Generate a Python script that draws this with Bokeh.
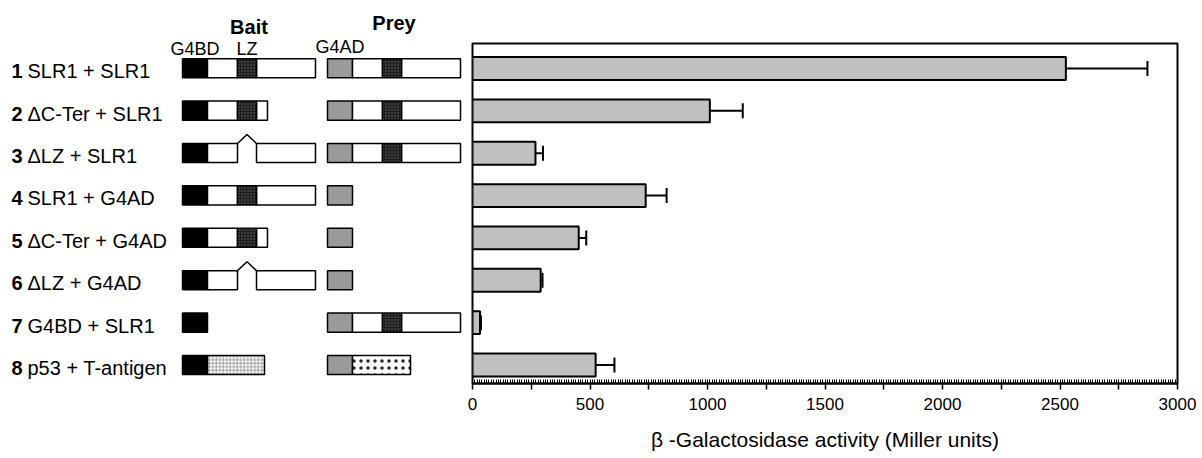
from bokeh.plotting import figure
from bokeh.models import Range1d, FixedTicker, Whisker, TeeHead, ColumnDataSource
from bokeh.layouts import row
from bokeh.embed import file_html
from bokeh.resources import INLINE
from bokeh.core.properties import value

FONT = "Liberation Sans"

# ---------------- data ----------------
row_numbers = ["1", "2", "3", "4", "5", "6", "7", "8"]
row_labels = ["SLR1 + SLR1", "ΔC-Ter + SLR1", "ΔLZ + SLR1", "SLR1 + G4AD",
              "ΔC-Ter + G4AD", "ΔLZ + G4AD", "G4BD + SLR1", "p53 + T-antigen"]
activity = [2525, 1010, 268, 737, 452, 290, 32, 524]
err_low = [2180, 878, 236, 648, 428, 280, 28, 444]
err_high = [2872, 1150, 300, 826, 484, 298, 36, 604]

tick_values = [0, 250, 500, 750, 1000, 1250, 1500, 1750, 2000, 2250, 2500, 2750, 3000]
tick_labels = ["0", "", "500", "", "1000", "", "1500", "", "2000", "", "2500", "", "3000"]
x_title = "β -Galactosidase activity (Miller units)"

# schematic domain sizes (arbitrary schematic units)
domain_len = {"G4BD": 25, "G4AD": 25, "N": 30, "LZ": 19, "gapLZ": 19,
              "C": 59, "Ct": 11, "p53": 57, "Tag": 58}
bait_parts = [
    ["G4BD", "N", "LZ", "C"],
    ["G4BD", "N", "LZ", "Ct"],
    ["G4BD", "N", "gapLZ", "C"],
    ["G4BD", "N", "LZ", "C"],
    ["G4BD", "N", "LZ", "Ct"],
    ["G4BD", "N", "gapLZ", "C"],
    ["G4BD"],
    ["G4BD", "p53"],
]
prey_parts = [
    ["G4AD", "N", "LZ", "C"],
    ["G4AD", "N", "LZ", "C"],
    ["G4AD", "N", "LZ", "C"],
    ["G4AD"],
    ["G4AD"],
    ["G4AD"],
    ["G4AD", "N", "LZ", "C"],
    ["G4AD", "Tag"],
]

# ---------------- layout constants ----------------
ROW0 = 67.7      # canvas y of first row centre
ROWSTEP = 42.4   # px per row
H = 458


def rows_of(cy):
    return (cy - ROW0) / ROWSTEP


BAIT_X0 = 0
PREY_X0 = 145
LEFT_W = 464
LEFT_X_ORIGIN = 182  # canvas x of bait start
BOX_HALF = 0.225
PEAK = 0.21

styles = {
    "G4BD": dict(fill_color="black"),
    "G4AD": dict(fill_color="#9a9a9a"),
    "N": dict(fill_color="white"),
    "C": dict(fill_color="white"),
    "Ct": dict(fill_color="white"),
    "LZ": dict(fill_color="#1e1e1e", hatch_pattern="dot", hatch_color="#6e6e6e",
               hatch_scale=3, hatch_weight=1),
    "p53": dict(fill_color="white", hatch_pattern="cross", hatch_color="#8a8a8a",
                hatch_scale=3.5, hatch_weight=0.8),
    "Tag": dict(fill_color="white", hatch_pattern="dot", hatch_color="#222222",
                hatch_scale=7, hatch_weight=1.6),
}

# ---------------- left (constructs) figure ----------------
left = figure(width=LEFT_W, height=H, output_backend="svg", toolbar_location=None,
              x_range=Range1d(-LEFT_X_ORIGIN, LEFT_W - LEFT_X_ORIGIN),
              y_range=Range1d(rows_of(H), rows_of(0)),
              min_border=0, min_border_left=0, min_border_right=0,
              min_border_top=0, min_border_bottom=0)
left.frame_align = False
left.axis.visible = False
left.grid.visible = False
left.outline_line_color = None
left.background_fill_color = "white"
left.border_fill_color = "white"

quads = {k: dict(left=[], right=[], top=[], bottom=[]) for k in styles}
caret_xs, caret_ys = [], []
header_pos = {}

for i, (bparts, pparts) in enumerate(zip(bait_parts, prey_parts)):
    for x0, parts in ((BAIT_X0, bparts), (PREY_X0, pparts)):
        x = x0
        for part in parts:
            w = domain_len[part]
            if part == "gapLZ":
                caret_xs.append([x, x + w / 2, x + w])
                caret_ys.append([i - BOX_HALF, i - BOX_HALF - PEAK, i - BOX_HALF])
            else:
                q = quads[part]
                q["left"].append(x)
                q["right"].append(x + w)
                q["top"].append(i - BOX_HALF)
                q["bottom"].append(i + BOX_HALF)
                if i == 0:
                    header_pos.setdefault(part, (x, x + w))
            x += w

for k, q in quads.items():
    if q["left"]:
        left.quad(source=ColumnDataSource(q), left="left", right="right", top="top",
                  bottom="bottom", line_color="black", line_width=1.5, **styles[k])

left.multi_line(xs=caret_xs, ys=caret_ys, line_color="black", line_width=1.5)

# row labels
NUM_X = -171
LAB_X = -155
left.text(x=[NUM_X] * len(row_numbers), y=list(range(len(row_numbers))), text=row_numbers,
          text_font=value(FONT), text_font_size="20px", text_font_style="bold",
          text_baseline="middle", text_align="left", text_color="black", y_offset=3)
left.text(x=[LAB_X] * len(row_labels), y=list(range(len(row_labels))), text=row_labels,
          text_font=value(FONT), text_font_size="20px",
          text_baseline="middle", text_align="left", text_color="black", y_offset=3)

# headers
bait_len = sum(domain_len[p] for p in bait_parts[0])
prey_len = sum(domain_len[p] for p in prey_parts[0])
left.text(x=[BAIT_X0 + bait_len / 2], y=[rows_of(26)], text=["Bait"],
          text_font=value(FONT), text_font_size="20px", text_font_style="bold",
          text_align="center", text_baseline="alphabetic", text_color="black")
left.text(x=[PREY_X0 + prey_len / 2], y=[rows_of(22)], text=["Prey"],
          text_font=value(FONT), text_font_size="20px", text_font_style="bold",
          text_align="center", text_baseline="alphabetic", text_color="black")
for name, cy in (("G4BD", 48), ("LZ", 48), ("G4AD", 46)):
    a, b = header_pos[name]
    left.text(x=[(a + b) / 2], y=[rows_of(cy)], text=[name],
              text_font=value(FONT), text_font_size="18px",
              text_align="center", text_baseline="alphabetic", text_color="black")

# ---------------- right (bar chart) figure ----------------
RIGHT_W = 1202 - LEFT_W
p = figure(width=RIGHT_W, height=H, output_backend="svg", toolbar_location=None,
           x_range=Range1d(0, 3000), y_range=Range1d(rows_of(383), rows_of(42.7)),
           min_border_left=8, min_border_right=25, min_border_top=43, min_border_bottom=75)
p.frame_align = False
p.grid.visible = False
p.yaxis.visible = False
p.outline_line_color = "black"
p.outline_line_width = 2
p.background_fill_color = "white"
p.border_fill_color = "white"

src = ColumnDataSource(dict(y=list(range(len(activity))), v=activity, lo=err_low, hi=err_high))
p.hbar(y="y", left=0, right="v", height=0.54, source=src,
       fill_color="#c0c0c0", line_color="black", line_width=2)
p.add_layout(Whisker(source=src, base="y", lower="lo", upper="hi", dimension="width",
                     line_color="black", line_width=2,
                     lower_head=TeeHead(size=15, line_width=2, line_color="black"),
                     upper_head=TeeHead(size=15, line_width=2, line_color="black")))

minor_step = 10
ax = p.xaxis[0]
ax.ticker = FixedTicker(ticks=tick_values, minor_ticks=list(range(0, 3001, minor_step)))
ax.major_label_overrides = {t: l for t, l in zip(tick_values, tick_labels)}
ax.axis_line_width = 2
ax.axis_line_color = "black"
ax.major_tick_line_color = "black"
ax.major_tick_line_width = 1.5
ax.major_tick_out = 6
ax.major_tick_in = 0
ax.minor_tick_line_color = "black"
ax.minor_tick_line_width = 1
ax.minor_tick_in = 4
ax.minor_tick_out = 0
ax.major_label_text_font = FONT
ax.major_label_text_font_size = "17px"
ax.major_label_text_color = "black"
ax.major_label_standoff = 8
ax.axis_label = x_title
ax.axis_label_text_font = FONT
ax.axis_label_text_font_size = "21px"
ax.axis_label_text_font_style = "normal"
ax.axis_label_text_color = "black"
ax.axis_label_standoff = 15

layout = row(left, p)
open("out.html", "w").write(file_html(layout, INLINE))
